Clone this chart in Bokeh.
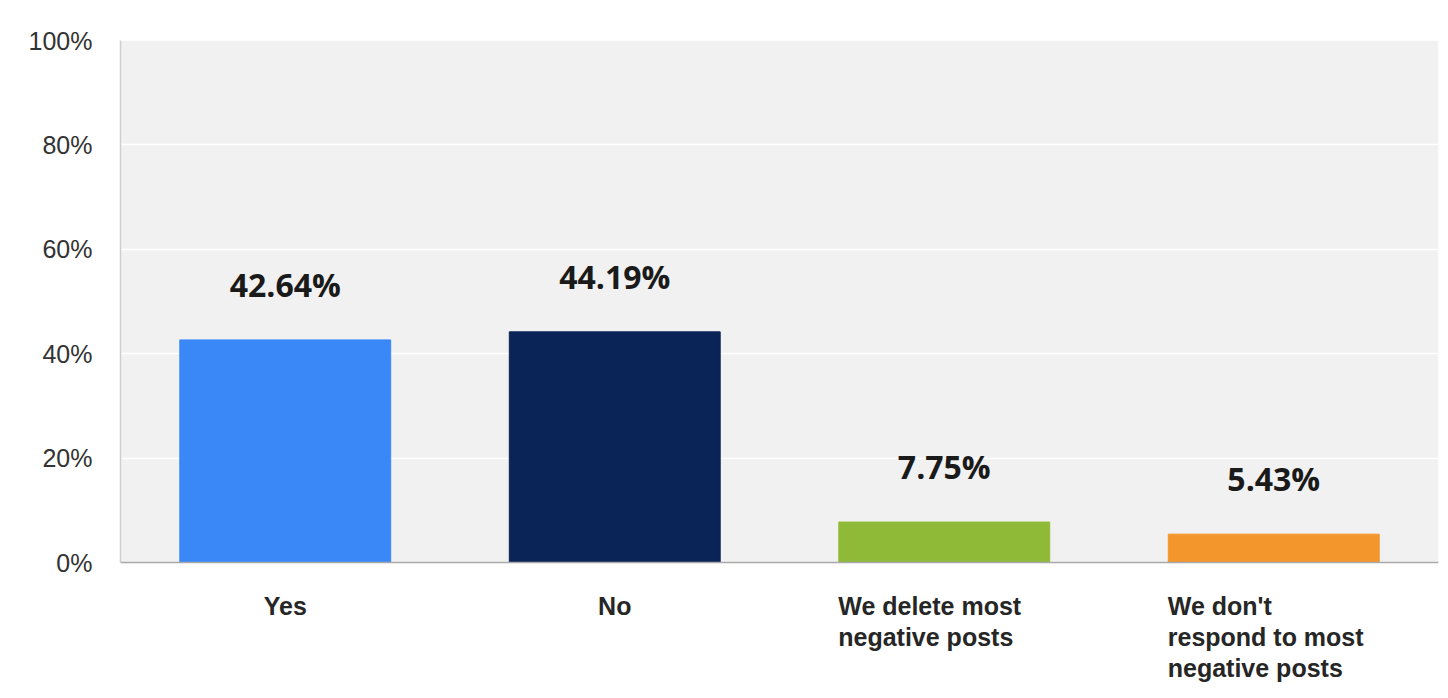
from bokeh.plotting import figure
from bokeh.models import (ColumnDataSource, BoxAnnotation, Span, Range1d,
                          FixedTicker, PrintfTickFormatter)
from bokeh.core.properties import value
from bokeh.embed import file_html
from bokeh.resources import INLINE

# ---- data ----
categories = ["Yes", "No", "We delete most negative posts",
              "We don't respond to most negative posts"]
display_labels = ["Yes", "No", "We delete most\nnegative posts",
                  "We don't\nrespond to most\nnegative posts"]
values = [42.64, 44.19, 7.75, 5.43]
value_labels = ["42.64%", "44.19%", "7.75%", "5.43%"]
bar_colors = ["#3a88f7", "#0b2457", "#8fba37", "#f3962b"]
y_ticks = [0, 20, 40, 60, 80, 100]

BAR_W = 0.64

src = ColumnDataSource(dict(cat=categories, val=values, vlabel=value_labels,
                            color=bar_colors))

p = figure(x_range=categories, y_range=Range1d(-24.52, 100),
           width=1440, height=690, output_backend="svg", toolbar_location=None,
           min_border_left=120, min_border_right=2, min_border_top=40,
           min_border_bottom=0)
p.background_fill_color = "white"
p.border_fill_color = "white"
p.outline_line_color = None

# gray plot panel above the baseline
p.add_layout(BoxAnnotation(bottom=0, top=100, fill_color="#f1f1f1", fill_alpha=1,
                           line_color=None, level="image"))

p.vbar(x="cat", top="val", width=BAR_W, color="color", source=src)

# baseline
p.add_layout(Span(location=0, dimension="width", line_color="#a8a8a8",
                  line_width=1.5))

# value labels
p.text(x="cat", y="val", text="vlabel", source=src, text_align="center",
       text_baseline="bottom", y_offset=-34, text_font=value("Open Sans"),
       text_font_style="bold", text_font_size="32px", text_color="#1a1a1a")

# category labels
single = [i for i, l in enumerate(display_labels) if "\n" not in l]
multi = [i for i, l in enumerate(display_labels) if "\n" in l]
src_single = ColumnDataSource(dict(cat=[categories[i] for i in single],
                                   lab=[display_labels[i] for i in single]))
src_multi = ColumnDataSource(dict(cat=[categories[i] for i in multi],
                                  lab=[display_labels[i] for i in multi]))
common = dict(y=0, text="lab", text_baseline="top", y_offset=29,
              text_font=value("Liberation Sans"), text_font_style="bold",
              text_font_size="25px", text_color="#262626", text_line_height=1.12)
p.text(x="cat", source=src_single, text_align="center", **common)
p.text(x="cat", source=src_multi, text_align="left", x_offset=-106, **common)

# axes
p.xaxis.visible = False
p.xgrid.visible = False
p.ygrid.grid_line_color = "white"
p.ygrid.grid_line_width = 1.5
p.ygrid.bounds = (0, 100)

ax = p.yaxis[0]
ax.ticker = FixedTicker(ticks=y_ticks)
ax.formatter = PrintfTickFormatter(format="%d%%")
ax.bounds = (0, 100)
ax.axis_line_color = "#cfcfcf"
ax.axis_line_width = 1.5
ax.major_tick_line_color = None
ax.minor_tick_line_color = None
ax.major_label_text_font = "Liberation Sans"
ax.major_label_text_font_size = "25px"
ax.major_label_text_color = "#333333"
ax.major_label_standoff = 22

open("out.html", "w").write(file_html(p, INLINE))
